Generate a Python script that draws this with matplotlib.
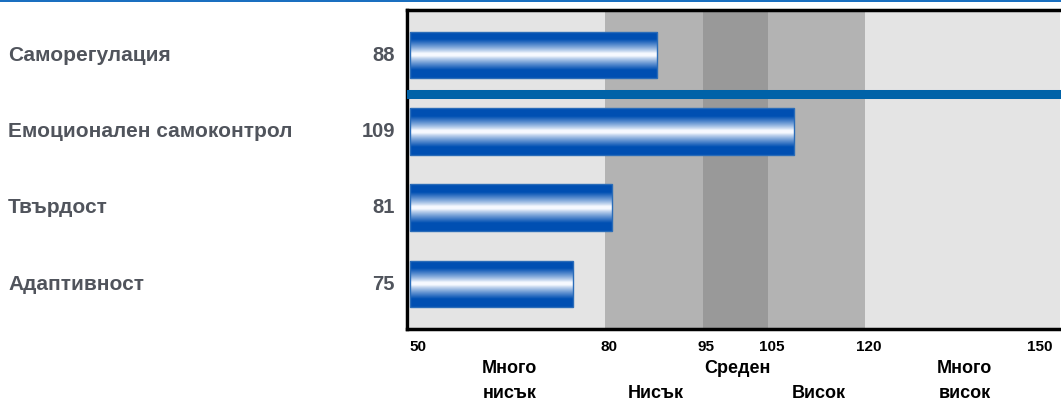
import numpy as np
import matplotlib.pyplot as plt
from matplotlib.patches import Rectangle

plt.rcParams['font.family'] = ['Liberation Sans', 'DejaVu Sans']

scales = ["Саморегулация", "Емоционален самоконтрол", "Твърдост", "Адаптивност"]
scores = [88, 109, 81, 75]

band_edges = [50, 80, 95, 105, 120, 150]
band_colors = ["#e4e4e4", "#b3b3b3", "#999999", "#b3b3b3", "#e4e4e4"]
tick_values = [50, 80, 95, 105, 120, 150]

# band names: (first line, second line) per band
band_names = [("Много", "нисък"), ("", "Нисък"), ("Среден", ""),
              ("", "Висок"), ("Много", "висок")]

W, H = 1061, 402
fig = plt.figure(figsize=(W / 100 + 0.001, H / 100 + 0.001), dpi=100)

# axes box: pixel edges converted to figure fractions
ax_l, ax_r, ax_t, ax_b = 407, 1061, 10, 329
ax = fig.add_axes([ax_l / W, 1 - ax_b / H, (ax_r - ax_l) / W, (ax_b - ax_t) / H])
px = 6.5  # pixels per score point
xlim = (50 - 3 / px, 150 + 1 / px)
ylim = (len(scales) - 0.41, -0.59)

for lo, hi, c in zip(band_edges[:-1], band_edges[1:], band_colors):
    ax.axvspan(lo, hi, color=c, lw=0, zorder=0)

# gradient for the tube-style bars
t = np.linspace(-1, 1, 96)
w = np.clip((np.abs(t) - 0.06) / 0.6, 0, 1) ** 0.85
dark = np.array([0.0, 0.31, 0.70])
light = np.array([0.97, 0.98, 1.0])
grad = (1 - w)[:, None] * light + w[:, None] * dark
grad = np.repeat(grad[:, None, :], 2, axis=1)

bar_h = 0.61
for i, s in enumerate(scores):
    y0, y1 = i - bar_h / 2, i + bar_h / 2
    im = ax.imshow(grad, extent=[50, s, y1, y0], aspect='auto',
                   interpolation='bilinear', zorder=2)
    rect = Rectangle((50, y0), s - 50, bar_h, fill=False,
                     ec="#2a6cb8", lw=1.0, zorder=3)
    ax.add_patch(rect)
    im.set_clip_path(rect)

ax.set_xlim(*xlim)
ax.set_ylim(*ylim)

# divider under the first scale
ax.axhline(0.507, color="#0062a8", lw=6.5, zorder=3)

for side in ["left", "top", "bottom"]:
    ax.spines[side].set_linewidth(2.5)
    ax.spines[side].set_color("black")
ax.spines["right"].set_visible(False)
ax.set_xticks([])
ax.set_yticks([])

# scale names and scores
span = ax_r - ax_l
for i, (name, s) in enumerate(zip(scales, scores)):
    ax.text(-399 / span, i, name, transform=ax.get_yaxis_transform(),
            ha="left", va="center", fontsize=15, fontweight="bold", color="#50545c")
    ax.text(-12 / span, i, str(s), transform=ax.get_yaxis_transform(),
            ha="right", va="center", fontsize=14.5, fontweight="bold", color="#50545c")

# x tick labels
y_base = ylim[0]
for v in tick_values:
    if v == 50:
        ax.text(v - 0.1, y_base + 0.24, str(v), ha="left", va="center",
                fontsize=11, fontweight="bold", clip_on=False)
    elif v == 150:
        ax.text(v - 1.2, y_base + 0.24, str(v), ha="right", va="center",
                fontsize=11, fontweight="bold", clip_on=False)
    else:
        ax.text(v + 0.6, y_base + 0.24, str(v), ha="center", va="center",
                fontsize=11, fontweight="bold", clip_on=False)

for (top, bottom), lo, hi in zip(band_names, band_edges[:-1], band_edges[1:]):
    mid = (lo + hi) / 2 + 0.3
    if top:
        ax.text(mid, y_base + 0.52, top, ha="center", va="center",
                fontsize=13, fontweight="bold", clip_on=False)
    if bottom:
        ax.text(mid, y_base + 0.84, bottom, ha="center", va="center",
                fontsize=13, fontweight="bold", clip_on=False)

# thin rule along the top of the figure
rule = fig.add_axes([0, 1 - 2.5 / H, 1, 2.5 / H], zorder=10)
rule.set_facecolor("#1a6fc0")
rule.set_xticks([])
rule.set_yticks([])
for sp in rule.spines.values():
    sp.set_visible(False)

fig.savefig("out.png", dpi=100)
